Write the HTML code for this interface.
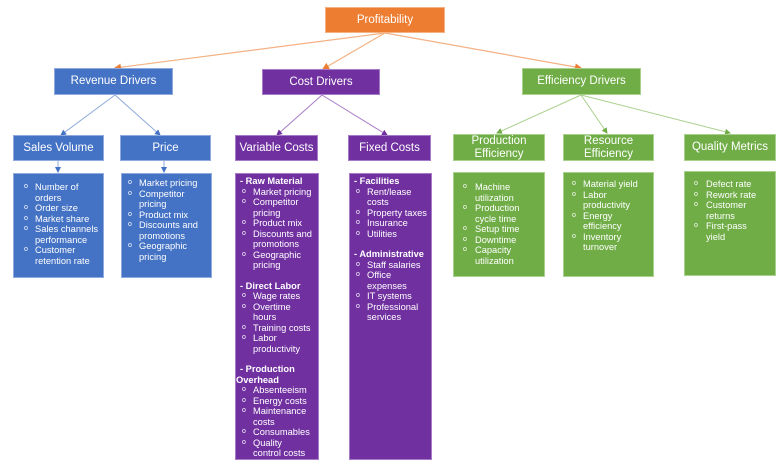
<!DOCTYPE html>
<html><head><meta charset="utf-8"><style>
html,body{margin:0;padding:0;background:#fff;width:780px;height:465px;overflow:hidden;position:relative;font-family:"Liberation Sans",sans-serif;}
.b{position:absolute;color:#fff;box-sizing:border-box;}
.t{display:flex;align-items:center;justify-content:center;text-align:center;font-size:11.5px;line-height:12.5px;}
.blue{background:#4472C4;border:1px solid #8FAADC}
.purple{background:#7030A0;border:1px solid #A77BC8}
.green{background:#70AD47;border:1px solid #A9D18E}
.orange{background:#ED7D31;border:1px solid #F4B183}
.l{font-size:9.3px;line-height:10.5px;padding-top:4px;white-space:nowrap}
.l ul{margin:0;padding:0;list-style:none}
.l li{position:relative;padding-left:var(--ind,21px)}
.l li:before{content:"o";position:absolute;left:var(--bx,9px);top:0;font-size:7px}
.h{font-weight:bold;padding-left:4px}
.sp{height:10px}
svg{position:absolute;left:0;top:0}
</style></head><body>
<svg width="780" height="465">
<defs>
<marker id="mo" markerWidth="6" markerHeight="6" refX="5" refY="3" orient="auto"><path d="M0,0L6,3L0,6z" fill="#ED7D31"/></marker>
<marker id="mb" markerWidth="6" markerHeight="6" refX="5" refY="3" orient="auto"><path d="M0,0L6,3L0,6z" fill="#4472C4"/></marker>
<marker id="mp" markerWidth="6" markerHeight="6" refX="5" refY="3" orient="auto"><path d="M0,0L6,3L0,6z" fill="#7030A0"/></marker>
<marker id="mg" markerWidth="6" markerHeight="6" refX="5" refY="3" orient="auto"><path d="M0,0L6,3L0,6z" fill="#70AD47"/></marker>
</defs>
<g stroke="#F4B183" stroke-width="1.2" fill="none">
<line x1="385" y1="33" x2="115" y2="68" marker-end="url(#mo)"/>
<line x1="385" y1="33" x2="323" y2="69" marker-end="url(#mo)"/>
<line x1="385" y1="33" x2="581" y2="68" marker-end="url(#mo)"/>
</g>
<g stroke="#8FAADC" stroke-width="1" fill="none">
<line x1="115" y1="95" x2="61" y2="135" marker-end="url(#mb)"/>
<line x1="115" y1="95" x2="160" y2="135" marker-end="url(#mb)"/>
<line x1="58" y1="161" x2="58" y2="172" marker-end="url(#mb)"/>
<line x1="164" y1="161" x2="164" y2="172" marker-end="url(#mb)"/>
</g>
<g stroke="#A77BC8" stroke-width="1" fill="none">
<line x1="322" y1="95" x2="277" y2="135" marker-end="url(#mp)"/>
<line x1="322" y1="95" x2="387" y2="135" marker-end="url(#mp)"/>
</g>
<g stroke="#A9D18E" stroke-width="1" fill="none">
<line x1="581" y1="95" x2="497" y2="133" marker-end="url(#mg)"/>
<line x1="581" y1="95" x2="607" y2="133" marker-end="url(#mg)"/>
<line x1="581" y1="95" x2="730" y2="133" marker-end="url(#mg)"/>
</g>
</svg>

<div class="b t orange" style="left:325px;top:7px;width:120px;height:26px">Profitability</div>
<div class="b t blue" style="left:54px;top:68px;width:119px;height:27px">Revenue Drivers</div>
<div class="b t purple" style="left:262px;top:69px;width:118px;height:26px">Cost Drivers</div>
<div class="b t green" style="left:522px;top:68px;width:119px;height:27px">Efficiency Drivers</div>

<div class="b t blue" style="left:13px;top:135px;width:91px;height:26px">Sales Volume</div>
<div class="b t blue" style="left:120px;top:135px;width:91px;height:26px">Price</div>
<div class="b t purple" style="left:235px;top:135px;width:83px;height:26px">Variable Costs</div>
<div class="b t purple" style="left:348px;top:135px;width:83px;height:26px">Fixed Costs</div>
<div class="b t green" style="left:453px;top:134px;width:92px;height:27px">Production<br>Efficiency</div>
<div class="b t green" style="left:563px;top:134px;width:91px;height:27px">Resource<br>Efficiency</div>
<div class="b t green" style="left:684px;top:134px;width:92px;height:27px">Quality Metrics</div>

<div class="b l blue" style="left:13px;top:173px;width:91px;height:105px;--ind:21px;--bx:10px;padding-top:8px"><ul>
<li>Number of<br>orders</li><li>Order size</li><li>Market share</li><li>Sales channels<br>performance</li><li>Customer<br>retention rate</li></ul></div>
<div class="b l blue" style="left:121px;top:173px;width:91px;height:105px;--ind:17px;--bx:6px;padding-top:4px"><ul>
<li>Market pricing</li><li>Competitor<br>pricing</li><li>Product mix</li><li>Discounts and<br>promotions</li><li>Geographic<br>pricing</li></ul></div>

<div class="b l purple" style="left:235px;top:173px;width:84px;height:287px;--ind:17px;--bx:6px;padding-top:2px">
<div class="h">- Raw Material</div><ul>
<li>Market pricing</li><li>Competitor<br>pricing</li><li>Product mix</li><li>Discounts and<br>promotions</li><li>Geographic<br>pricing</li></ul>
<div class="sp"></div>
<div class="h">- Direct Labor</div><ul>
<li>Wage rates</li><li>Overtime<br>hours</li><li>Training costs</li><li>Labor<br>productivity</li></ul>
<div class="sp"></div>
<div class="h">- Production<br><span style="margin-left:-4px">Overhead</span></div><ul>
<li>Absenteeism</li><li>Energy costs</li><li>Maintenance<br>costs</li><li>Consumables</li><li>Quality<br>control costs</li></ul>
</div>

<div class="b l purple" style="left:349px;top:173px;width:83px;height:287px;--ind:17px;--bx:6px;padding-top:2px">
<div class="h">- Facilities</div><ul>
<li>Rent/lease<br>costs</li><li>Property taxes</li><li>Insurance</li><li>Utilities</li></ul>
<div class="sp"></div>
<div class="h">- Administrative</div><ul>
<li>Staff salaries</li><li>Office<br>expenses</li><li>IT systems</li><li>Professional<br>services</li></ul>
</div>

<div class="b l green" style="left:453px;top:172px;width:92px;height:105px;--ind:21px;--bx:9px;padding-top:9px"><ul>
<li>Machine<br>utilization</li><li>Production<br>cycle time</li><li>Setup time</li><li>Downtime</li><li>Capacity<br>utilization</li></ul></div>
<div class="b l green" style="left:563px;top:172px;width:91px;height:105px;--ind:19px;--bx:8px;padding-top:6px"><ul>
<li>Material yield</li><li>Labor<br>productivity</li><li>Energy<br>efficiency</li><li>Inventory<br>turnover</li></ul></div>
<div class="b l green" style="left:684px;top:171px;width:92px;height:105px;--ind:21px;--bx:9px;padding-top:7px"><ul>
<li>Defect rate</li><li>Rework rate</li><li>Customer<br>returns</li><li>First-pass<br>yield</li></ul></div>
</body></html>
